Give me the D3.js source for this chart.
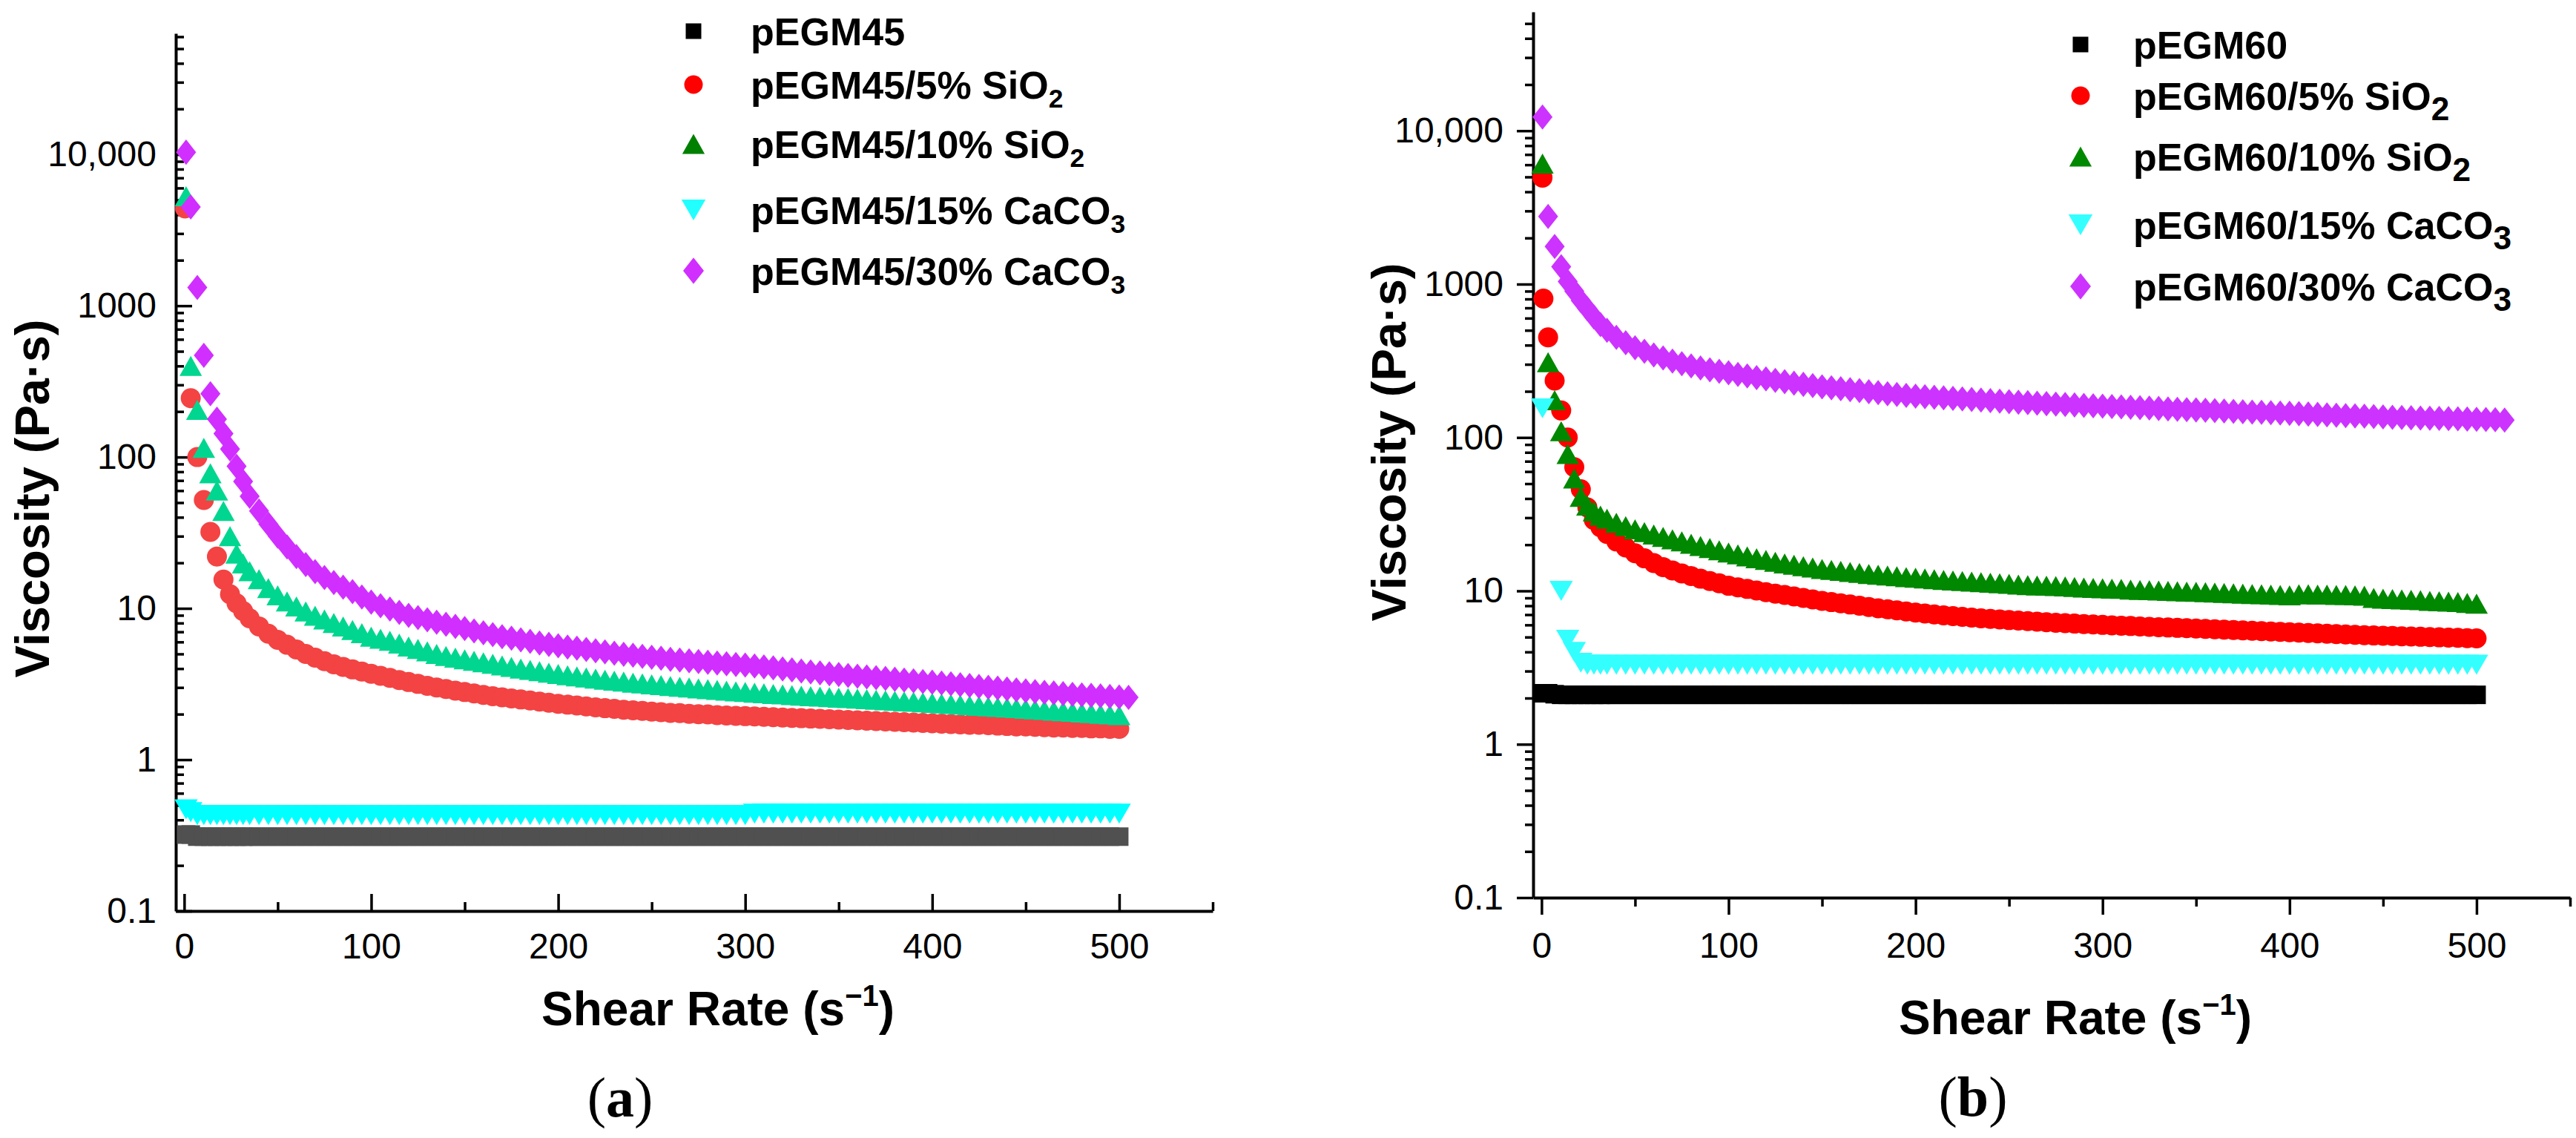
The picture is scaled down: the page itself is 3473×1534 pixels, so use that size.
<!DOCTYPE html>
<html>
<head>
<meta charset="utf-8">
<script src="https://cdn.jsdelivr.net/npm/d3@7"></script>
<style>
  body { margin: 0; background: #fff; }
  svg { display: block; }
</style>
</head>
<body>
<main></main>
<script>
// Viscosity vs shear rate, two panels (a) pEGM45 and (b) pEGM60

// shear rate (1/s), shared by every series; null = no point at that rate
const shearRate = [
  0.5, 1, 3.5, 7, 10.5, 14, 17.5, 21, 24.5, 28, 31.5, 35,
  40, 45, 50, 55, 60, 65, 70, 75, 80, 85, 90, 95, 100,
  105, 110, 115, 120, 125, 130, 135, 140, 145, 150,
  155, 160, 165, 170, 175, 180, 185, 190, 195, 200,
  205, 210, 215, 220, 225, 230, 235, 240, 245, 250,
  255, 260, 265, 270, 275, 280, 285, 290, 295, 300,
  305, 310, 315, 320, 325, 330, 335, 340, 345, 350,
  355, 360, 365, 370, 375, 380, 385, 390, 395, 400,
  405, 410, 415, 420, 425, 430, 435, 440, 445, 450,
  455, 460, 465, 470, 475, 480, 485, 490, 495, 500,
  505, 510, 515
];

// ---- panel (a) ----
const aNeat = [
  null, 0.32, 0.32, 0.31, 0.31, 0.31, 0.31, 0.31, 0.31, 0.31, 0.31, 0.31,
  0.31, 0.31, 0.31, 0.31, 0.31, 0.31, 0.31, 0.31, 0.31, 0.31, 0.31, 0.31, 0.31,
  0.31, 0.31, 0.31, 0.31, 0.31, 0.31, 0.31, 0.31, 0.31, 0.31,
  0.31, 0.31, 0.31, 0.31, 0.31, 0.31, 0.31, 0.31, 0.31, 0.31,
  0.31, 0.31, 0.31, 0.31, 0.31, 0.31, 0.31, 0.31, 0.31, 0.31,
  0.31, 0.31, 0.31, 0.31, 0.31, 0.31, 0.31, 0.31, 0.31, 0.31,
  0.31, 0.31, 0.31, 0.31, 0.31, 0.31, 0.31, 0.31, 0.31, 0.31,
  0.31, 0.31, 0.31, 0.31, 0.31, 0.31, 0.31, 0.31, 0.31, 0.31,
  0.31, 0.31, 0.31, 0.31, 0.31, 0.31, 0.31, 0.31, 0.31, 0.31,
  0.31, 0.31, 0.31, 0.31, 0.31, 0.31, 0.31, 0.31, 0.31, 0.31,
  null, null, null
];
const aSi5 = [
  4400, null, 245, 100, 52, 32, 22, 15.5, 12.4, 10.8, 9.6, 8.6,
  7.6, 6.8, 6.2, 5.75, 5.35, 5.0, 4.72, 4.48, 4.27, 4.1, 3.95, 3.82, 3.7,
  3.58, 3.47, 3.36, 3.26, 3.17, 3.08, 3.0, 2.93, 2.86, 2.8,
  2.74, 2.68, 2.63, 2.58, 2.54, 2.5, 2.46, 2.42, 2.38, 2.34,
  2.31, 2.28, 2.25, 2.22, 2.19, 2.17, 2.14, 2.12, 2.1, 2.08,
  2.06, 2.04, 2.03, 2.01, 2.0, 1.99, 1.97, 1.96, 1.95, 1.94,
  1.93, 1.92, 1.91, 1.9, 1.89, 1.88, 1.87, 1.86, 1.85, 1.84,
  1.83, 1.82, 1.81, 1.8, 1.79, 1.78, 1.77, 1.76, 1.75, 1.74,
  1.73, 1.72, 1.71, 1.7, 1.7, 1.69, 1.68, 1.67, 1.66, 1.66,
  1.65, 1.64, 1.63, 1.63, 1.62, 1.62, 1.61, 1.61, 1.6, 1.6,
  null, null, null
];
const aSi10 = [
  null, 5300, 400, 205, 115, 78, 60, 44, 30, 23, 19.8, 17.6,
  15.6, 13.6, 12.2, 11.1, 10.3, 9.55, 8.95, 8.45, 8.0, 7.6, 7.2, 6.85, 6.5,
  6.3, 6.1, 5.85, 5.6, 5.4, 5.2, 5.0, 4.85, 4.72, 4.6,
  4.5, 4.4, 4.3, 4.2, 4.1, 4.0, 3.92, 3.84, 3.76, 3.68,
  3.61, 3.55, 3.49, 3.43, 3.38, 3.33, 3.28, 3.23, 3.19, 3.15,
  3.11, 3.07, 3.03, 3.0, 2.96, 2.92, 2.89, 2.86, 2.83, 2.8,
  2.77, 2.75, 2.72, 2.7, 2.67, 2.65, 2.63, 2.61, 2.59, 2.57,
  2.55, 2.53, 2.51, 2.49, 2.47, 2.45, 2.43, 2.41, 2.39, 2.37,
  2.35, 2.33, 2.31, 2.29, 2.27, 2.25, 2.23, 2.21, 2.19, 2.17,
  2.15, 2.13, 2.11, 2.09, 2.07, 2.05, 2.03, 2.01, 1.99, 1.97,
  null, null, null
];
const aCa15 = [
  null, 0.47, 0.45, 0.43, 0.43, 0.43, 0.43, 0.43, 0.43, 0.43, 0.43, 0.43,
  0.43, 0.43, 0.43, 0.43, 0.43, 0.43, 0.43, 0.43, 0.43, 0.43, 0.43, 0.43, 0.43,
  0.43, 0.43, 0.43, 0.43, 0.43, 0.43, 0.43, 0.43, 0.43, 0.43,
  0.43, 0.43, 0.43, 0.43, 0.43, 0.43, 0.43, 0.43, 0.43, 0.43,
  0.43, 0.43, 0.43, 0.43, 0.43, 0.43, 0.43, 0.43, 0.43, 0.43,
  0.43, 0.43, 0.43, 0.43, 0.43, 0.43, 0.43, 0.43, 0.43, 0.43,
  0.44, 0.44, 0.44, 0.44, 0.44, 0.44, 0.44, 0.44, 0.44, 0.44,
  0.44, 0.44, 0.44, 0.44, 0.44, 0.44, 0.44, 0.44, 0.44, 0.44,
  0.44, 0.44, 0.44, 0.44, 0.44, 0.44, 0.44, 0.44, 0.44, 0.44,
  0.44, 0.44, 0.44, 0.44, 0.44, 0.44, 0.44, 0.44, 0.44, 0.44,
  null, null, null
];
const aCa30 = [
  null, 10350, 4500, 1320, 470, 262, 178, 143, 113, 87, 69, 55,
  44, 36, 30, 25.5, 22, 19.5, 17.5, 16, 14.8, 13.8, 12.9, 11.9, 11.0,
  10.4, 9.9, 9.4, 9.0, 8.7, 8.4, 8.1, 7.85, 7.6, 7.35,
  7.1, 6.9, 6.7, 6.5, 6.35, 6.2, 6.05, 5.9, 5.78, 5.66,
  5.55, 5.45, 5.35, 5.25, 5.15, 5.05, 4.97, 4.9, 4.82, 4.75,
  4.68, 4.61, 4.55, 4.5, 4.45, 4.4, 4.35, 4.3, 4.26, 4.22,
  4.16, 4.1, 4.04, 3.98, 3.92, 3.86, 3.8, 3.75, 3.7, 3.65,
  3.6, 3.56, 3.52, 3.48, 3.44, 3.4, 3.36, 3.32, 3.28, 3.25,
  3.21, 3.17, 3.13, 3.09, 3.05, 3.01, 2.97, 2.93, 2.89, 2.85,
  2.82, 2.79, 2.76, 2.73, 2.7, 2.68, 2.66, 2.64, 2.62, 2.6,
  2.58, null, null
];

// ---- panel (b) ----
const bNeat = [
  2.15, 2.15, 2.15, 2.12, 2.1, 2.1, 2.1, 2.1, 2.1, 2.1, 2.1, 2.1,
  2.1, 2.1, 2.1, 2.1, 2.1, 2.1, 2.1, 2.1, 2.1, 2.1, 2.1, 2.1, 2.1,
  2.1, 2.1, 2.1, 2.1, 2.1, 2.1, 2.1, 2.1, 2.1, 2.1,
  2.1, 2.1, 2.1, 2.1, 2.1, 2.1, 2.1, 2.1, 2.1, 2.1,
  2.1, 2.1, 2.1, 2.1, 2.1, 2.1, 2.1, 2.1, 2.1, 2.1,
  2.1, 2.1, 2.1, 2.1, 2.1, 2.1, 2.1, 2.1, 2.1, 2.1,
  2.1, 2.1, 2.1, 2.1, 2.1, 2.1, 2.1, 2.1, 2.1, 2.1,
  2.1, 2.1, 2.1, 2.1, 2.1, 2.1, 2.1, 2.1, 2.1, 2.1,
  2.1, 2.1, 2.1, 2.1, 2.1, 2.1, 2.1, 2.1, 2.1, 2.1,
  2.1, 2.1, 2.1, 2.1, 2.1, 2.1, 2.1, 2.1, 2.1, 2.1,
  null, null, null
];
const bSi5 = [
  4950, 805, 450, 235, 150, 100, 64, 46, 35, 29, 26, 23.5,
  21, 19.2, 17.6, 16.3, 15.2, 14.3, 13.6, 13.0, 12.5, 12.0, 11.6, 11.2, 10.8,
  10.55, 10.3, 10.05, 9.8, 9.6, 9.4, 9.2, 9.0, 8.8, 8.6,
  8.45, 8.3, 8.15, 8.0, 7.85, 7.7, 7.58, 7.46, 7.34, 7.22,
  7.12, 7.02, 6.93, 6.85, 6.77, 6.7, 6.63, 6.57, 6.51, 6.45,
  6.4, 6.35, 6.3, 6.25, 6.2, 6.16, 6.12, 6.08, 6.04, 6.0,
  5.96, 5.93, 5.9, 5.86, 5.83, 5.8, 5.77, 5.74, 5.71, 5.68,
  5.65, 5.62, 5.59, 5.56, 5.53, 5.5, 5.47, 5.44, 5.41, 5.38,
  5.35, 5.32, 5.29, 5.26, 5.23, 5.2, 5.17, 5.14, 5.12, 5.1,
  5.08, 5.06, 5.04, 5.02, 5.0, 4.98, 4.96, 4.94, 4.92, 4.9,
  null, null, null
];
const bSi10 = [
  6100, null, 310, 175, 110, 78, 54, 41, 36, 33, 31, 29.5,
  27.8, 26.4, 25.2, 24.2, 23.3, 22.5, 21.7, 21.0, 20.3, 19.6, 19.0, 18.4, 17.8,
  17.3, 16.8, 16.3, 15.9, 15.5, 15.1, 14.8, 14.5, 14.2, 13.9,
  13.7, 13.5, 13.3, 13.1, 12.9, 12.75, 12.6, 12.45, 12.3, 12.2,
  12.05, 11.9, 11.8, 11.7, 11.6, 11.5, 11.4, 11.3, 11.2, 11.1,
  11.0, 10.9, 10.85, 10.8, 10.75, 10.7, 10.6, 10.5, 10.45, 10.4,
  10.35, 10.3, 10.2, 10.15, 10.1, 10.05, 10.0, 9.95, 9.9, 9.85,
  9.8, 9.75, 9.7, 9.65, 9.6, 9.55, 9.5, 9.45, 9.4, 9.35,
  9.5, 9.5, 9.45, 9.45, 9.4, 9.4, 9.35, 9.3, 9.0, 8.9,
  8.85, 8.8, 8.75, 8.7, 8.6, 8.55, 8.5, 8.45, 8.35, 8.25,
  null, null, null
];
const bCa15 = [
  155, null, null, null, 10, 4.8, 4.0, 3.4, 3.3, 3.3, 3.3, 3.3,
  3.3, 3.3, 3.3, 3.3, 3.3, 3.3, 3.3, 3.3, 3.3, 3.3, 3.3, 3.3, 3.3,
  3.3, 3.3, 3.3, 3.3, 3.3, 3.3, 3.3, 3.3, 3.3, 3.3,
  3.3, 3.3, 3.3, 3.3, 3.3, 3.3, 3.3, 3.3, 3.3, 3.3,
  3.3, 3.3, 3.3, 3.3, 3.3, 3.3, 3.3, 3.3, 3.3, 3.3,
  3.3, 3.3, 3.3, 3.3, 3.3, 3.3, 3.3, 3.3, 3.3, 3.3,
  3.3, 3.3, 3.3, 3.3, 3.3, 3.3, 3.3, 3.3, 3.3, 3.3,
  3.3, 3.3, 3.3, 3.3, 3.3, 3.3, 3.3, 3.3, 3.3, 3.3,
  3.3, 3.3, 3.3, 3.3, 3.3, 3.3, 3.3, 3.3, 3.3, 3.3,
  3.3, 3.3, 3.3, 3.3, 3.3, 3.3, 3.3, 3.3, 3.3, 3.3,
  null, null, null
];
const bCa30 = [
  12300, null, 2760, 1760, 1300, 1040, 900, 780, 690, 610, 545, 500,
  450, 415, 385, 365, 345, 330, 315, 303, 293, 284, 276, 270, 264,
  258, 252, 246, 241, 236, 231, 226, 222, 218, 214,
  211, 208, 205, 202, 199, 196, 193, 191, 188, 186,
  184.5, 183, 181.5, 180, 178.5, 177, 175.5, 174, 172.5, 171,
  169.8, 168.6, 167.4, 166.2, 165, 164, 163, 162, 161, 160,
  159.1, 158.2, 157.3, 156.4, 155.5, 154.6, 153.7, 152.8, 152, 151.2,
  150.4, 149.6, 148.8, 148, 147.3, 146.6, 145.9, 145.2, 144.5, 143.8,
  143, 142.2, 141.4, 140.6, 139.8, 139, 138.3, 137.6, 136.9, 136.2,
  135.6, 135, 134.5, 134, 133.5, 133.1, 132.7, 132.3, 131.9, 131.5,
  131, 130.5, 130
];

// axis ticks
const xTicks = [0, 100, 200, 300, 400, 500];
const xMinorTicks = [50, 150, 250, 350, 450, 550];
const yTicks = [0.1, 1, 10, 100, 1000, 10000];
const yTickLabels = ["0.1", "1", "10", "100", "1000", "10,000"];

// legend text: [main, subscript]
const aLegend = [["pEGM45", ""], ["pEGM45/5% SiO", "2"], ["pEGM45/10% SiO", "2"],
                 ["pEGM45/15% CaCO", "3"], ["pEGM45/30% CaCO", "3"]];
const bLegend = [["pEGM60", ""], ["pEGM60/5% SiO", "2"], ["pEGM60/10% SiO", "2"],
                 ["pEGM60/15% CaCO", "3"], ["pEGM60/30% CaCO", "3"]];

const shapes = ["square", "circle", "up", "down", "diamond"];

const sans = "'Liberation Sans', Arial, Helvetica, sans-serif";
const serif = "'Liberation Serif', 'Times New Roman', Times, serif";

const W = 3473, H = 1534;

const svg = d3.select("main")
  .append("svg")
  .attr("width", W)
  .attr("height", H)
  .attr("viewBox", `0 0 ${W} ${H}`);

svg.append("rect").attr("width", W).attr("height", H).attr("fill", "#fff");

// marker outline centred on 0,0
function markerPath(shape, s) {
  const h = s / 2;
  switch (shape) {
    case "square":
      return `M${-h},${-h}H${h}V${h}H${-h}Z`;
    case "circle":
      return `M${h},0A${h},${h} 0 1,1 ${-h},0A${h},${h} 0 1,1 ${h},0Z`;
    case "up": {
      const w = s * 1.12 / 2;
      return `M0,${-h}L${w},${h}L${-w},${h}Z`;
    }
    case "down": {
      const w = s * 1.12 / 2, hh = s * 0.48;
      return `M0,${hh}L${w},${-hh}L${-w},${-hh}Z`;
    }
    case "diamond": {
      const w = s * 0.5, hh = s * 0.63;
      return `M0,${-hh}L${w},0L0,${hh}L${-w},0Z`;
    }
  }
}

function drawPanel(p) {
  const x = d3.scaleLinear().domain([-4.5, 550]).range([p.left, p.right]);
  const y = d3.scaleLog().domain([0.1, p.yMax]).range([p.bottom, p.top]);

  const g = svg.append("g");
  const dir = p.inward ? -1 : 1;

  // x axis
  const gx = g.append("g")
    .attr("transform", `translate(0,${p.bottom})`)
    .call(d3.axisBottom(x)
      .tickValues(xTicks)
      .tickFormat(d3.format("d"))
      .tickSize(dir * 23)
      .tickSizeOuter(0)
      .tickPadding(p.xPad));
  g.append("g")
    .attr("transform", `translate(0,${p.bottom})`)
    .call(d3.axisBottom(x)
      .tickValues(xMinorTicks)
      .tickFormat("")
      .tickSize(dir * 12)
      .tickSizeOuter(0))
    .call(a => a.select(".domain").remove())
    .selectAll("line").attr("stroke-width", 3.5);

  // y axis
  const gy = g.append("g")
    .attr("transform", `translate(${p.left},0)`)
    .call(d3.axisLeft(y)
      .tickValues(yTicks)
      .tickFormat((d, i) => yTickLabels[i])
      .tickSize(dir * 22)
      .tickSizeOuter(0)
      .tickPadding(p.yPad));
  const yMinor = y.ticks().filter(v => !yTicks.some(t => Math.abs(t - v) / t < 1e-6));
  g.append("g")
    .attr("transform", `translate(${p.left},0)`)
    .call(d3.axisLeft(y)
      .tickValues(yMinor)
      .tickFormat("")
      .tickSize(dir * 11)
      .tickSizeOuter(0))
    .call(a => a.select(".domain").remove())
    .selectAll("line").attr("stroke-width", 3.5);

  [gx, gy].forEach(a => {
    a.attr("font-family", sans).attr("font-size", 48);
    a.select(".domain").attr("stroke-width", 4);
    a.selectAll(".tick line").attr("stroke-width", 3.5);
    a.selectAll("text").attr("fill", "#000");
  });

  // data
  p.series.forEach((vals, k) => {
    const pts = shearRate.map((sr, i) => ({ x: sr, y: vals[i] })).filter(d => d.y != null);
    g.append("g")
      .selectAll("path")
      .data(pts)
      .join("path")
      .attr("transform", d => `translate(${x(d.x)},${y(d.y)})`)
      .attr("d", markerPath(shapes[k], p.markerSize[k]))
      .attr("fill", p.colors[k]);
  });

  // legend
  const lg = g.append("g");
  p.legend.forEach((lab, k) => {
    const cy = p.legendY[k];
    lg.append("path")
      .attr("transform", `translate(${p.legendX},${cy})`)
      .attr("d", markerPath(shapes[k], p.legendSize[k]))
      .attr("fill", p.legendColors[k]);
    const t = lg.append("text")
      .attr("x", p.textX)
      .attr("y", cy + 19)
      .attr("font-family", sans)
      .attr("font-weight", "bold")
      .attr("font-size", 52)
      .text(lab[0]);
    if (lab[1]) {
      t.append("tspan")
        .attr("font-size", 52 * p.subScale)
        .attr("dy", p.subShift)
        .text(lab[1]);
    }
  });

  // axis titles
  g.append("text")
    .attr("transform", `translate(${p.yTitle[0]},${p.yTitle[1]}) rotate(-90)`)
    .attr("text-anchor", "middle")
    .attr("font-family", sans)
    .attr("font-weight", "bold")
    .attr("font-size", 65)
    .text("Viscosity (Pa\u00b7s)");

  const xt = g.append("text")
    .attr("x", p.xTitle[0])
    .attr("y", p.xTitle[1])
    .attr("text-anchor", "middle")
    .attr("font-family", sans)
    .attr("font-weight", "bold")
    .attr("font-size", 64);
  xt.append("tspan").text("Shear Rate (s");
  xt.append("tspan").attr("font-size", 40).attr("dy", -26).text("\u22121");
  xt.append("tspan").attr("dy", 26).text(")");

  // panel letter
  const pl = g.append("text")
    .attr("x", p.tag[0])
    .attr("y", p.tag[1])
    .attr("text-anchor", "middle")
    .attr("font-family", serif)
    .attr("font-size", 76);
  pl.append("tspan").text("(");
  pl.append("tspan").attr("font-weight", "bold").text(p.tag[2]);
  pl.append("tspan").text(")");
}

drawPanel({
  left: 237, right: 1635, top: 45, bottom: 1228, yMax: Math.pow(10, 4.8),
  inward: true, xPad: 30, yPad: 26,
  series: [aNeat, aSi5, aSi10, aCa15, aCa30],
  colors: ["#505050", "#f44343", "#00d68f", "#00ffff", "#d02fff"],
  legendColors: ["#000000", "#ff0000", "#008000", "#22ffff", "#d02fff"],
  markerSize: [25, 27, 27, 28, 27],
  legendSize: [21, 25, 27, 29, 28],
  legend: aLegend, legendX: 935, textX: 1012,
  legendY: [42, 114, 194, 283, 365], subScale: 0.68, subShift: 12,
  yTitle: [66, 672], xTitle: [968, 1382], tag: [836, 1505, "a"]
});

drawPanel({
  left: 2067, right: 3465, top: 16, bottom: 1210, yMax: Math.pow(10, 4.775),
  inward: false, xPad: 24, yPad: 18,
  series: [bNeat, bSi5, bSi10, bCa15, bCa30],
  colors: ["#000000", "#ff0000", "#008800", "#33ffff", "#cc33ff"],
  legendColors: ["#000000", "#ff0000", "#008800", "#33ffff", "#cc33ff"],
  markerSize: [25, 27, 27, 28, 27],
  legendSize: [21, 25, 27, 29, 28],
  legend: bLegend, legendX: 2805, textX: 2876,
  legendY: [60, 129, 211, 303, 386], subScale: 0.85, subShift: 14,
  yTitle: [1895, 596], xTitle: [2798, 1394], tag: [2660, 1504, "b"]
});
</script>
</body>
</html>
